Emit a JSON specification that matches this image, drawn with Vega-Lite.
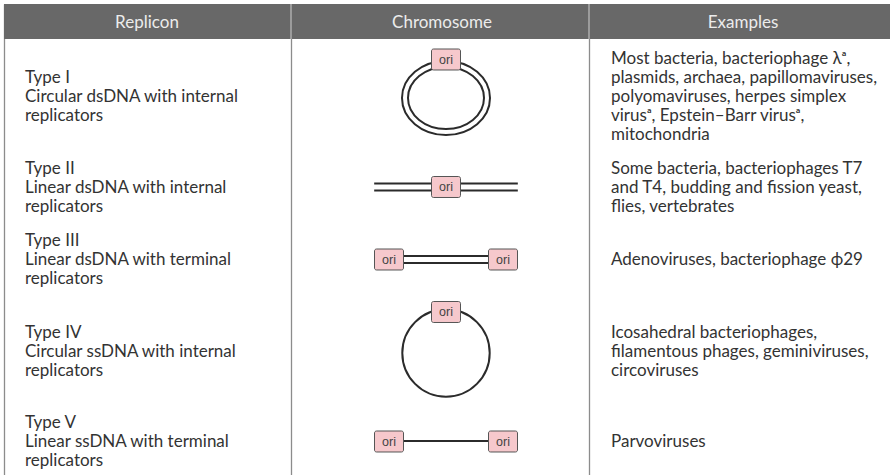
{
  "$schema": "https://vega.github.io/schema/vega-lite/v6.json",
  "width": 886,
  "height": 471,
  "autosize": {"type": "none"},
  "padding": {"left": 4, "top": 4, "right": 0, "bottom": 0},
  "background": "white",
  "config": {"view": {"stroke": null}, "text": {"font": "Lato, 'Noto Sans'"}},
  "datasets": {
    "cells": [
      {"row": 0, "col": 0, "text": "Replicon"},
      {"row": 0, "col": 1, "text": "Chromosome"},
      {"row": 0, "col": 2, "text": "Examples"},
      {"row": 1, "col": 0, "text": "Type I\nCircular dsDNA with internal\nreplicators"},
      {"row": 1, "col": 2, "text": "Most bacteria, bacteriophage λᵃ,\nplasmids, archaea, papillomaviruses,\npolyomaviruses, herpes simplex\nvirusᵃ, Epstein–Barr virusᵃ,\nmitochondria"},
      {"row": 2, "col": 0, "text": "Type II\nLinear dsDNA with internal\nreplicators"},
      {"row": 2, "col": 2, "text": "Some bacteria, bacteriophages T7\nand T4, budding and fission yeast,\nflies, vertebrates"},
      {"row": 3, "col": 0, "text": "Type III\nLinear dsDNA with terminal\nreplicators"},
      {"row": 3, "col": 2, "text": "Adenoviruses, bacteriophage ϕ29"},
      {"row": 4, "col": 0, "text": "Type IV\nCircular ssDNA with internal\nreplicators"},
      {"row": 4, "col": 2, "text": "Icosahedral bacteriophages,\nfilamentous phages, geminiviruses,\ncircoviruses"},
      {"row": 5, "col": 0, "text": "Type V\nLinear ssDNA with terminal\nreplicators"},
      {"row": 5, "col": 2, "text": "Parvoviruses"}
    ],
    "rings": [
      {"row": 1, "pos": 0, "ring": "outer"},
      {"row": 1, "pos": 0, "ring": "inner"},
      {"row": 4, "pos": 0, "ring": "single"}
    ],
    "segments": [
      {"row": 2, "from": -1.26, "to": 1.26, "strands": 2},
      {"row": 3, "from": -1, "to": 1, "strands": 2},
      {"row": 5, "from": -1, "to": 1, "strands": 1}
    ],
    "oris": [
      {"row": 1, "pos": 0, "label": "ori"},
      {"row": 2, "pos": 0, "label": "ori"},
      {"row": 3, "pos": -1, "label": "ori"},
      {"row": 3, "pos": 1, "label": "ori"},
      {"row": 4, "pos": 0, "label": "ori"},
      {"row": 5, "pos": -1, "label": "ori"},
      {"row": 5, "pos": 1, "label": "ori"}
    ]
  },
  "resolve": {"scale": {"x": "independent"}},
  "layer": [
    {
      "data": {"name": "cells"},
      "transform": [{"filter": "datum.row == 0 && datum.col == 0"}],
      "mark": {"type": "rect", "fill": "#686868"},
      "encoding": {
        "x": {"datum": -0.5, "type": "quantitative",
          "scale": {"domain": [-0.5, 0, 0.5, 1, 1.5, 2, 2.5], "range": [0, 143, 287, 438, 585, 739, 886], "nice": false, "zero": false},
          "axis": {"values": [-0.5, 0.5, 1.5], "grid": true, "gridColor": "#8c8c8c", "gridWidth": 1.3, "labels": false, "ticks": false, "domain": false, "title": null}},
        "x2": {"datum": 2.5},
        "y": {"datum": -0.5, "type": "quantitative",
          "scale": {"domain": [-0.5, 0, 0.5, 1, 1.5, 2, 2.5, 3, 3.5, 4, 4.5, 5, 5.5], "range": [0, 18.5, 35, 93, 146, 183.5, 218, 256, 292, 348, 401, 438, 471], "nice": false, "zero": false},
          "axis": {"values": [0.5, 1.5, 2.5, 3.5, 4.5], "grid": true, "gridColor": "#8c8c8c", "gridWidth": 1.3, "labels": false, "ticks": false, "domain": false, "title": null}},
        "y2": {"datum": 0.5}
      }
    },
    {
      "data": {"name": "cells"},
      "transform": [{"filter": "datum.row == 0 && datum.col == 0"}],
      "mark": {"type": "rule", "stroke": "#b8b8b8", "strokeWidth": 1.3},
      "encoding": {
        "x": {"datum": 0.5, "type": "quantitative", "axis": null,
          "scale": {"domain": [-0.5, 0, 0.5, 1, 1.5, 2, 2.5], "range": [0, 143, 287, 438, 585, 739, 886], "nice": false, "zero": false}},
        "y": {"datum": -0.5, "type": "quantitative", "axis": null},
        "y2": {"datum": 0.5}
      }
    },
    {
      "data": {"name": "cells"},
      "transform": [{"filter": "datum.row == 0 && datum.col == 0"}],
      "mark": {"type": "rule", "stroke": "#b8b8b8", "strokeWidth": 1.3},
      "encoding": {
        "x": {"datum": 1.5, "type": "quantitative", "axis": null,
          "scale": {"domain": [-0.5, 0, 0.5, 1, 1.5, 2, 2.5], "range": [0, 143, 287, 438, 585, 739, 886], "nice": false, "zero": false}},
        "y": {"datum": -0.5, "type": "quantitative", "axis": null},
        "y2": {"datum": 0.5}
      }
    },
    {
      "data": {"name": "cells"},
      "transform": [{"filter": "datum.row == 0"}],
      "mark": {"type": "text", "align": "center", "baseline": "middle", "fontSize": 17, "color": "#ececec"},
      "encoding": {
        "x": {"field": "col", "type": "quantitative", "axis": null,
          "scale": {"domain": [-0.5, 0, 0.5, 1, 1.5, 2, 2.5], "range": [0, 143, 287, 438, 585, 739, 886], "nice": false, "zero": false}},
        "y": {"field": "row", "type": "quantitative", "axis": null},
        "text": {"field": "text", "type": "nominal"}
      }
    },
    {
      "data": {"name": "cells"},
      "transform": [{"filter": "datum.row > 0 && datum.col == 0"}],
      "mark": {"type": "text", "align": "left", "baseline": "middle", "dx": -122, "dy": -19, "fontSize": 17, "lineHeight": 19, "lineBreak": "\n", "color": "#333333"},
      "encoding": {
        "x": {"field": "col", "type": "quantitative", "axis": null,
          "scale": {"domain": [-0.5, 0, 0.5, 1, 1.5, 2, 2.5], "range": [0, 143, 287, 438, 585, 739, 886], "nice": false, "zero": false}},
        "y": {"field": "row", "type": "quantitative", "axis": null},
        "text": {"field": "text", "type": "nominal"}
      }
    },
    {
      "data": {"name": "cells"},
      "transform": [{"filter": "datum.row > 0 && datum.col == 2 && length(split(datum.text, '\\n')) == 5"}],
      "mark": {"type": "text", "align": "left", "baseline": "middle", "dx": -132, "dy": -38, "fontSize": 17, "lineHeight": 19, "lineBreak": "\n", "color": "#333333"},
      "encoding": {
        "x": {"field": "col", "type": "quantitative", "axis": null,
          "scale": {"domain": [-0.5, 0, 0.5, 1, 1.5, 2, 2.5], "range": [0, 143, 287, 438, 585, 739, 886], "nice": false, "zero": false}},
        "y": {"field": "row", "type": "quantitative", "axis": null},
        "text": {"field": "text", "type": "nominal"}
      }
    },
    {
      "data": {"name": "cells"},
      "transform": [{"filter": "datum.row > 0 && datum.col == 2 && length(split(datum.text, '\\n')) == 3"}],
      "mark": {"type": "text", "align": "left", "baseline": "middle", "dx": -132, "dy": -19, "fontSize": 17, "lineHeight": 19, "lineBreak": "\n", "color": "#333333"},
      "encoding": {
        "x": {"field": "col", "type": "quantitative", "axis": null,
          "scale": {"domain": [-0.5, 0, 0.5, 1, 1.5, 2, 2.5], "range": [0, 143, 287, 438, 585, 739, 886], "nice": false, "zero": false}},
        "y": {"field": "row", "type": "quantitative", "axis": null},
        "text": {"field": "text", "type": "nominal"}
      }
    },
    {
      "data": {"name": "cells"},
      "transform": [{"filter": "datum.row > 0 && datum.col == 2 && length(split(datum.text, '\\n')) == 1"}],
      "mark": {"type": "text", "align": "left", "baseline": "middle", "dx": -132, "dy": 0, "fontSize": 17, "lineHeight": 19, "lineBreak": "\n", "color": "#333333"},
      "encoding": {
        "x": {"field": "col", "type": "quantitative", "axis": null,
          "scale": {"domain": [-0.5, 0, 0.5, 1, 1.5, 2, 2.5], "range": [0, 143, 287, 438, 585, 739, 886], "nice": false, "zero": false}},
        "y": {"field": "row", "type": "quantitative", "axis": null},
        "text": {"field": "text", "type": "nominal"}
      }
    },
    {
      "data": {"name": "segments"},
      "transform": [{"filter": "datum.strands == 2"}],
      "mark": {"type": "rule", "stroke": "#2b2b2b", "strokeWidth": 2, "yOffset": -4},
      "encoding": {
        "x": {"field": "from", "type": "quantitative", "axis": null, "scale": {"domain": [-1, 1], "range": [385, 499], "nice": false, "zero": false}},
        "x2": {"field": "to"},
        "y": {"field": "row", "type": "quantitative", "axis": null}
      }
    },
    {
      "data": {"name": "segments"},
      "transform": [{"filter": "datum.strands == 2"}],
      "mark": {"type": "rule", "stroke": "#2b2b2b", "strokeWidth": 2, "yOffset": 3},
      "encoding": {
        "x": {"field": "from", "type": "quantitative", "axis": null, "scale": {"domain": [-1, 1], "range": [385, 499], "nice": false, "zero": false}},
        "x2": {"field": "to"},
        "y": {"field": "row", "type": "quantitative", "axis": null}
      }
    },
    {
      "data": {"name": "segments"},
      "transform": [{"filter": "datum.strands == 1"}],
      "mark": {"type": "rule", "stroke": "#2b2b2b", "strokeWidth": 2, "yOffset": -1},
      "encoding": {
        "x": {"field": "from", "type": "quantitative", "axis": null, "scale": {"domain": [-1, 1], "range": [385, 499], "nice": false, "zero": false}},
        "x2": {"field": "to"},
        "y": {"field": "row", "type": "quantitative", "axis": null}
      }
    },
    {
      "data": {"name": "rings"},
      "transform": [{"filter": "datum.ring == 'outer'"}],
      "mark": {"type": "point", "filled": false, "opacity": 1, "stroke": "#2b2b2b", "strokeWidth": 2, "yOffset": 1, "size": 7744,
        "shape": "M-1,0A1,0.841,0,1,1,1,0A1,0.841,0,1,1,-1,0Z"},
      "encoding": {
        "x": {"field": "pos", "type": "quantitative", "axis": null, "scale": {"domain": [-1, 1], "range": [385, 499], "nice": false, "zero": false}},
        "y": {"field": "row", "type": "quantitative", "axis": null}
      }
    },
    {
      "data": {"name": "rings"},
      "transform": [{"filter": "datum.ring == 'inner'"}],
      "mark": {"type": "point", "filled": false, "opacity": 1, "stroke": "#2b2b2b", "strokeWidth": 2, "yOffset": 1, "size": 5776,
        "shape": "M-1,0A1,0.816,0,1,1,1,0A1,0.816,0,1,1,-1,0Z"},
      "encoding": {
        "x": {"field": "pos", "type": "quantitative", "axis": null, "scale": {"domain": [-1, 1], "range": [385, 499], "nice": false, "zero": false}},
        "y": {"field": "row", "type": "quantitative", "axis": null}
      }
    },
    {
      "data": {"name": "rings"},
      "transform": [{"filter": "datum.ring == 'single'"}],
      "mark": {"type": "point", "filled": false, "opacity": 1, "stroke": "#2b2b2b", "strokeWidth": 2, "yOffset": 1, "size": 7639,
        "shape": "M-1,0A1,1,0,1,1,1,0A1,1,0,1,1,-1,0Z"},
      "encoding": {
        "x": {"field": "pos", "type": "quantitative", "axis": null, "scale": {"domain": [-1, 1], "range": [385, 499], "nice": false, "zero": false}},
        "y": {"field": "row", "type": "quantitative", "axis": null}
      }
    },
    {
      "data": {"name": "oris"},
      "transform": [{"filter": "datum.row == 1"}],
      "mark": {"type": "point", "filled": true, "opacity": 1, "fill": "#f6c8cc", "stroke": "#555555", "strokeWidth": 1, "yOffset": -37.5, "size": 841,
        "shape": "M-0.862,-0.724H0.862A0.138,0.138,0,0,1,1,-0.586V0.586A0.138,0.138,0,0,1,0.862,0.724H-0.862A0.138,0.138,0,0,1,-1,0.586V-0.586A0.138,0.138,0,0,1,-0.862,-0.724Z"},
      "encoding": {
        "x": {"field": "pos", "type": "quantitative", "axis": null, "scale": {"domain": [-1, 1], "range": [385, 499], "nice": false, "zero": false}},
        "y": {"field": "row", "type": "quantitative", "axis": null}
      }
    },
    {
      "data": {"name": "oris"},
      "transform": [{"filter": "datum.row == 1"}],
      "mark": {"type": "text", "align": "center", "baseline": "middle", "fontSize": 12.5, "font": "Liberation Sans", "color": "#444444", "yOffset": -37.5},
      "encoding": {
        "x": {"field": "pos", "type": "quantitative", "axis": null, "scale": {"domain": [-1, 1], "range": [385, 499], "nice": false, "zero": false}},
        "y": {"field": "row", "type": "quantitative", "axis": null},
        "text": {"field": "label", "type": "nominal"}
      }
    },
    {
      "data": {"name": "oris"},
      "transform": [{"filter": "datum.row == 4"}],
      "mark": {"type": "point", "filled": true, "opacity": 1, "fill": "#f6c8cc", "stroke": "#555555", "strokeWidth": 1, "yOffset": -40, "size": 841,
        "shape": "M-0.862,-0.724H0.862A0.138,0.138,0,0,1,1,-0.586V0.586A0.138,0.138,0,0,1,0.862,0.724H-0.862A0.138,0.138,0,0,1,-1,0.586V-0.586A0.138,0.138,0,0,1,-0.862,-0.724Z"},
      "encoding": {
        "x": {"field": "pos", "type": "quantitative", "axis": null, "scale": {"domain": [-1, 1], "range": [385, 499], "nice": false, "zero": false}},
        "y": {"field": "row", "type": "quantitative", "axis": null}
      }
    },
    {
      "data": {"name": "oris"},
      "transform": [{"filter": "datum.row == 4"}],
      "mark": {"type": "text", "align": "center", "baseline": "middle", "fontSize": 12.5, "font": "Liberation Sans", "color": "#444444", "yOffset": -40},
      "encoding": {
        "x": {"field": "pos", "type": "quantitative", "axis": null, "scale": {"domain": [-1, 1], "range": [385, 499], "nice": false, "zero": false}},
        "y": {"field": "row", "type": "quantitative", "axis": null},
        "text": {"field": "label", "type": "nominal"}
      }
    },
    {
      "data": {"name": "oris"},
      "transform": [{"filter": "datum.row == 2 || datum.row == 3 || datum.row == 5"}],
      "mark": {"type": "point", "filled": true, "opacity": 1, "fill": "#f6c8cc", "stroke": "#555555", "strokeWidth": 1, "yOffset": -0.5, "size": 841,
        "shape": "M-0.862,-0.724H0.862A0.138,0.138,0,0,1,1,-0.586V0.586A0.138,0.138,0,0,1,0.862,0.724H-0.862A0.138,0.138,0,0,1,-1,0.586V-0.586A0.138,0.138,0,0,1,-0.862,-0.724Z"},
      "encoding": {
        "x": {"field": "pos", "type": "quantitative", "axis": null, "scale": {"domain": [-1, 1], "range": [385, 499], "nice": false, "zero": false}},
        "y": {"field": "row", "type": "quantitative", "axis": null}
      }
    },
    {
      "data": {"name": "oris"},
      "transform": [{"filter": "datum.row == 2 || datum.row == 3 || datum.row == 5"}],
      "mark": {"type": "text", "align": "center", "baseline": "middle", "fontSize": 12.5, "font": "Liberation Sans", "color": "#444444", "yOffset": -0.5},
      "encoding": {
        "x": {"field": "pos", "type": "quantitative", "axis": null, "scale": {"domain": [-1, 1], "range": [385, 499], "nice": false, "zero": false}},
        "y": {"field": "row", "type": "quantitative", "axis": null},
        "text": {"field": "label", "type": "nominal"}
      }
    }
  ]
}
